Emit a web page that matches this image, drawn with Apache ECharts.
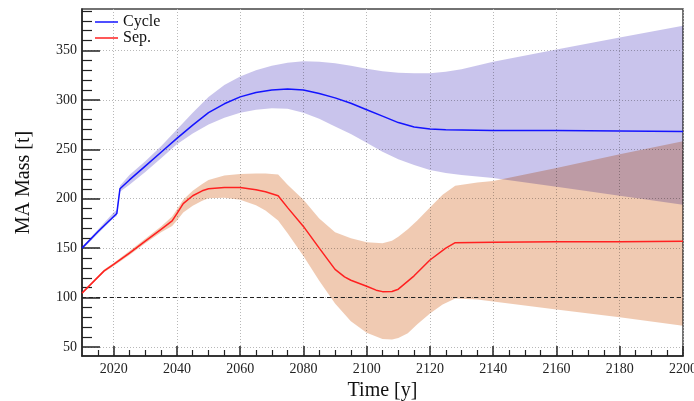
<!DOCTYPE html>
<html>
<head>
<meta charset="utf-8">
<script src="https://cdn.jsdelivr.net/npm/echarts@6/dist/echarts.min.js"></script>
<style>html,body{margin:0;padding:0;background:#fff}#c{width:694px;height:401px}</style>
</head>
<body>
<div id="c"></div>
<script>
// ---- data ----
const cycleYears = [2010, 2015, 2021, 2022, 2025, 2030, 2035, 2040, 2045, 2050, 2055, 2060, 2065, 2070, 2075, 2080, 2085, 2090, 2095, 2100, 2105, 2110, 2115, 2120, 2125, 2130, 2140, 2160, 2180, 2200];
const cycleMass  = [150, 166.5, 185, 210, 219, 233, 247, 261, 274.5, 287, 296, 303, 307.5, 310, 311, 310, 306.5, 302, 296.5, 290, 283.5, 277, 272.5, 270.5, 269.8, 269.5, 269, 269, 268.5, 268];

const cycleBandYears = [2010, 2015, 2020, 2021, 2022, 2025, 2030, 2035, 2040, 2045, 2050, 2055, 2060, 2065, 2070, 2075, 2080, 2085, 2090, 2095, 2100, 2105, 2110, 2115, 2120, 2125, 2130, 2140, 2160, 2180, 2200];
const cycleUpper = [151.5, 168.5, 186, 188.5, 213, 224, 238, 253, 270, 287, 303, 315, 323.5, 330, 334.5, 337.5, 339, 338.5, 337, 334.5, 331.5, 329, 327.5, 327, 327, 328.5, 331, 338.5, 351, 363, 375];
const cycleLower = [148.5, 164.5, 180.5, 182.5, 207, 214, 227, 241, 255, 266, 275, 282, 287, 290, 291.5, 291, 287, 281, 273, 265.5, 256.5, 247.5, 240, 234, 229, 226, 224, 221, 212, 203, 194];

const sepYears = [2010, 2017, 2020, 2025, 2030, 2035, 2038.5, 2040, 2042, 2045, 2048, 2050, 2055, 2060, 2065, 2068, 2072, 2075, 2080, 2085, 2090, 2093, 2095, 2100, 2103, 2105, 2108, 2110, 2115, 2120, 2125, 2128, 2140, 2160, 2180, 2200];
const sepMass  = [104.5, 127, 133.5, 145, 157, 169, 177.5, 185, 195, 203, 208, 210, 211.3, 211.3, 209, 207, 203, 191, 172, 150, 128.5, 121, 117.5, 111.5, 107.5, 106, 106.2, 108.5, 122, 138, 150, 155.5, 156, 156.5, 156.5, 157];

const sepBandYears = [2010, 2017, 2020, 2025, 2030, 2035, 2038.5, 2040, 2042, 2045, 2048, 2050, 2055, 2060, 2065, 2068, 2072, 2075, 2080, 2085, 2090, 2095, 2100, 2105, 2108, 2110, 2113, 2116, 2120, 2124, 2128, 2135, 2140, 2160, 2180, 2200];
const sepUpper = [105.5, 128.5, 135, 147, 159.5, 172, 182, 189, 199, 208, 215, 219, 223.5, 225, 225.5, 225.5, 224.5, 214, 199, 180, 166, 160, 156, 155, 157.5, 161.5, 169, 178, 191, 204, 213, 216.5, 218, 231, 245, 258];
const sepLower = [103.5, 125.5, 132, 143, 155, 166, 172.5, 178, 186, 193, 198, 200.5, 201, 199, 193.5, 188, 178, 165, 142, 117, 94, 76, 64.5, 58, 57.5, 59, 64, 73, 84, 93, 99, 98, 96, 88, 80, 71.5];

const referenceLevel = 100;

const xMajorTicks = [2020, 2040, 2060, 2080, 2100, 2120, 2140, 2160, 2180, 2200];
const xMinorTicks = [2015, 2025, 2030, 2035, 2045, 2050, 2055, 2065, 2070, 2075, 2085, 2090, 2095, 2105, 2110, 2115, 2125, 2130, 2135, 2145, 2150, 2155, 2165, 2170, 2175, 2185, 2190, 2195];
const yMajorTicks = [50, 100, 150, 200, 250, 300, 350];
const yMinorTicks = [60, 70, 80, 90, 110, 120, 130, 140, 160, 170, 180, 190, 210, 220, 230, 240, 260, 270, 280, 290, 310, 320, 330, 340, 360, 370, 380, 390];

// ---- chart ----
const SERIF = 'Liberation Serif, Times New Roman, serif';
const chart = echarts.init(document.getElementById('c'), null, {renderer: 'canvas'});

function band(years, lower, upper, color) {
  return {
    type: 'custom',
    silent: true,
    z: 1,
    blendMode: 'multiply',
    data: years.map((x, i) => [x, lower[i], upper[i]]),
    encode: {x: 0, y: [1, 2]},
    renderItem: function (params, api) {
      if (params.dataIndex !== 0) return null;
      const pts = [];
      for (let i = 0; i < years.length; i++) pts.push(api.coord([years[i], upper[i]]));
      for (let i = years.length - 1; i >= 0; i--) pts.push(api.coord([years[i], lower[i]]));
      return {type: 'polygon', shape: {points: pts}, style: {fill: color, blend: 'multiply'}};
    }
  };
}

const axisColor = '#222';
const gridLine = {show: true, lineStyle: {type: [1, 2], color: '#b8b8b8', width: 1}};
const legendIcon = 'path://M0 0H23V1.5H0Z';

chart.setOption({
  animation: false,
  backgroundColor: '#fff',
  grid: {left: 82, top: 9, right: 11, bottom: 45, show: true, borderColor: '#444', borderWidth: 1.5,
         backgroundColor: 'transparent', containLabel: false, outerBoundsMode: 'none'},
  legend: {
    data: [{name: 'Cycle', icon: legendIcon}, {name: 'Sep.', icon: legendIcon}],
    orient: 'vertical', left: 95, top: 14, padding: 0,
    itemWidth: 23, itemHeight: 15, itemGap: 0,
    textStyle: {fontFamily: SERIF, fontSize: 16, color: '#111', lineHeight: 15}
  },
  xAxis: [{
    type: 'value', min: 2010, max: 2200, position: 'bottom',
    name: 'Time [y]', nameLocation: 'middle', nameGap: 23,
    nameTextStyle: {fontFamily: SERIF, fontSize: 20, color: '#111'},
    axisLine: {show: true, onZero: false, lineStyle: {color: axisColor, width: 1.5}},
    axisTick: {show: true, inside: true, length: 10, customValues: xMajorTicks, lineStyle: {color: axisColor, width: 1.5}},
    axisLabel: {customValues: xMajorTicks, formatter: v => String(v), fontFamily: SERIF, fontSize: 14, color: '#222', margin: 6, hideOverlap: false},
    splitLine: gridLine
  }, {
    type: 'value', min: 2010, max: 2200, position: 'bottom',
    axisLine: {show: false},
    axisTick: {show: true, inside: true, length: 6, customValues: xMinorTicks, lineStyle: {color: axisColor, width: 1.2}},
    axisLabel: {show: false}, splitLine: {show: false}
  }],
  yAxis: [{
    type: 'value', min: 40.9, max: 391.9, position: 'left',
    name: 'MA Mass [t]', nameLocation: 'middle', nameGap: 48,
    nameTextStyle: {fontFamily: SERIF, fontSize: 20, color: '#111'},
    axisLine: {show: true, onZero: false, lineStyle: {color: axisColor, width: 1.5}},
    axisTick: {show: true, inside: true, length: 18, customValues: yMajorTicks, lineStyle: {color: axisColor, width: 1.5}},
    axisLabel: {customValues: yMajorTicks, formatter: v => String(v), fontFamily: SERIF, fontSize: 14, color: '#222', margin: 5},
    splitLine: gridLine
  }, {
    type: 'value', min: 40.9, max: 391.9, position: 'left',
    axisLine: {show: false},
    axisTick: {show: true, inside: true, length: 10, customValues: yMinorTicks, lineStyle: {color: axisColor, width: 1.2}},
    axisLabel: {show: false}, splitLine: {show: false}
  }],
  series: [
    band(cycleBandYears, cycleLower, cycleUpper, '#c9c4ec'),
    band(sepBandYears, sepLower, sepUpper, '#f0cab2'),
    {
      name: 'Cycle', type: 'line', symbol: 'none', z: 3,
      data: cycleYears.map((x, i) => [x, cycleMass[i]]),
      lineStyle: {color: '#1414ff', width: 1.5, join: 'round'}, itemStyle: {color: '#1414ff'}
    },
    {
      name: 'Sep.', type: 'line', symbol: 'none', z: 3,
      data: sepYears.map((x, i) => [x, sepMass[i]]),
      lineStyle: {color: '#ff2020', width: 1.5, join: 'round'}, itemStyle: {color: '#ff2020'},
      markLine: {
        silent: true, symbol: ['none', 'none'], label: {show: false},
        lineStyle: {type: [4, 3], color: '#222', width: 1},
        data: [{yAxis: referenceLevel}]
      }
    }
  ]
});
</script>
</body>
</html>
